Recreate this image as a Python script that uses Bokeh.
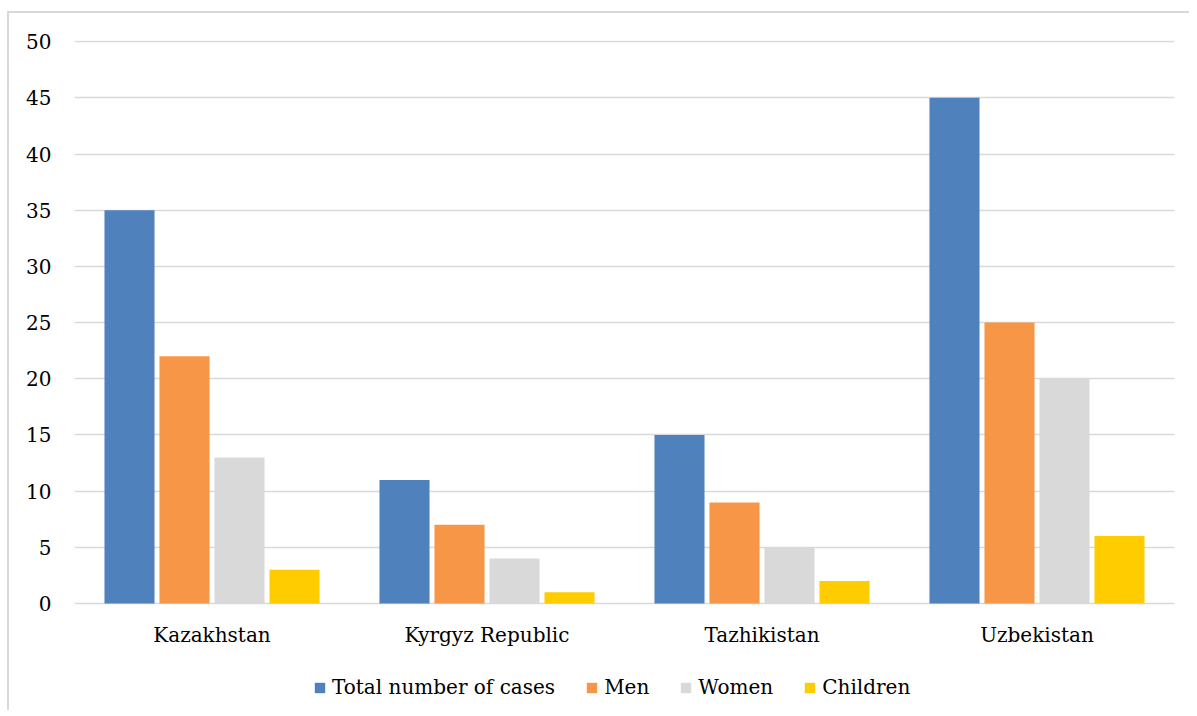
from bokeh.plotting import figure
from bokeh.models import (ColumnDataSource, Legend, LegendItem, FactorRange, FixedTicker,
                          CategoricalAxis)
from bokeh.transform import dodge
from bokeh.embed import file_html
from bokeh.resources import INLINE

countries = ["Kazakhstan", "Kyrgyz Republic", "Tazhikistan", "Uzbekistan"]
total = [35, 11, 15, 45]
men = [22, 7, 9, 25]
women = [13, 4, 5, 20]
children = [3, 1, 2, 6]
series_names = ["Total number of cases", "Men", "Women", "Children"]
colors = ["#4F81BD", "#F79646", "#D9D9D9", "#FFCC00"]
y_ticks = [0, 5, 10, 15, 20, 25, 30, 35, 40, 45, 50]

FONT = "DejaVu Serif"

src = ColumnDataSource(dict(country=countries, total=total, men=men, women=women, children=children))

p = figure(x_range=FactorRange(*countries), y_range=(-9.52, 50.1),
           frame_width=1100, frame_height=670, x_axis_location=None,
           output_backend="svg", toolbar_location=None,
           min_border_left=65, min_border_right=15, min_border_top=27, min_border_bottom=0)
p.styles = {"border-top": "2px solid #d9d9d9", "border-left": "2px solid #d9d9d9",
            "margin-top": "11px", "margin-left": "7px"}

offsets = [-0.3, -0.1, 0.1, 0.3]
cols = ["total", "men", "women", "children"]
renderers = []
for off, col, c in zip(offsets, cols, colors):
    r = p.vbar(x=dodge("country", off, range=p.x_range), top=col, width=0.182, source=src,
               fill_color=c, line_color=None)
    renderers.append(r)

xaxis = CategoricalAxis(fixed_location=0)
p.add_layout(xaxis, "below")

p.outline_line_color = None
p.xgrid.grid_line_color = None
p.ygrid.grid_line_color = "#D9D9D9"
p.ygrid.grid_line_width = 1.5
p.yaxis.ticker = FixedTicker(ticks=y_ticks)
for ax in (xaxis, p.yaxis[0]):
    ax.axis_line_color = None
    ax.major_tick_line_color = None
    ax.minor_tick_line_color = None
    ax.major_label_text_font = FONT
    ax.major_label_text_font_size = "20px"
    ax.major_label_text_color = "#000000"
p.yaxis.major_label_standoff = 17
xaxis.major_label_standoff = 13
p.x_range.range_padding = 0
p.x_range.group_padding = 0

legend = Legend(items=[LegendItem(label=n, renderers=[r]) for n, r in zip(series_names, renderers)],
                orientation="horizontal", location=(239, 11),
                label_text_font=FONT, label_text_font_size="20px", label_text_color="#000000",
                glyph_width=13, glyph_height=13, spacing=30, label_standoff=6,
                border_line_color=None, background_fill_alpha=0, padding=0, margin=0)
p.add_layout(legend, "center")

open("out.html", "w").write(file_html(p, INLINE))
